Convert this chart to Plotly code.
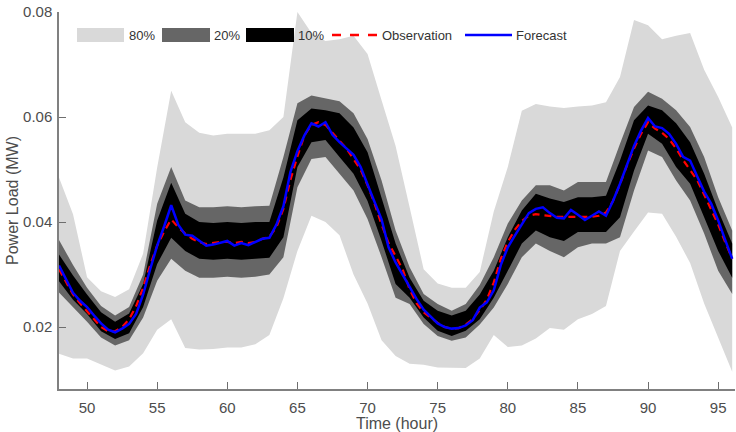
import plotly.graph_objects as go

# ---------------- data ----------------
hours = [48, 49, 50, 51, 52, 53, 54, 55, 56, 57, 58, 59, 60, 61, 62, 63, 64, 65, 66, 67,
         68, 69, 70, 71, 72, 73, 74, 75, 76, 77, 78, 79, 80, 81, 82, 83, 84, 85, 86, 87,
         88, 89, 90, 91, 92, 93, 94, 95, 96]

hi80 = [0.0485, 0.0415, 0.0295, 0.0268, 0.0257, 0.0272, 0.0340, 0.0504, 0.0650, 0.0590,
        0.0570, 0.0565, 0.0568, 0.0568, 0.0568, 0.0575, 0.0600, 0.0800, 0.0760, 0.0745,
        0.0748, 0.0755, 0.0720, 0.0632, 0.0545, 0.0428, 0.0310, 0.0283, 0.0275, 0.0275,
        0.0305, 0.0420, 0.0505, 0.0612, 0.0625, 0.0620, 0.0617, 0.0620, 0.0622, 0.0628,
        0.0676, 0.0785, 0.0775, 0.0748, 0.0755, 0.0760, 0.0690, 0.0638, 0.0580]
lo80 = [0.0149, 0.0140, 0.0140, 0.0128, 0.0117, 0.0125, 0.0150, 0.0195, 0.0215, 0.0160,
        0.0157, 0.0158, 0.0161, 0.0161, 0.0167, 0.0185, 0.0255, 0.0345, 0.0412, 0.0400,
        0.0375, 0.0300, 0.0245, 0.0175, 0.0145, 0.0130, 0.0128, 0.0123, 0.0122, 0.0122,
        0.0140, 0.0185, 0.0162, 0.0165, 0.0178, 0.0198, 0.0195, 0.0215, 0.0225, 0.0240,
        0.0345, 0.0382, 0.0418, 0.0416, 0.0372, 0.0322, 0.0245, 0.0180, 0.0115]
hi20 = [0.0366, 0.0318, 0.0275, 0.0240, 0.0222, 0.0238, 0.0300, 0.0435, 0.0505, 0.0441,
        0.0428, 0.0428, 0.0430, 0.0428, 0.0430, 0.0431, 0.0524, 0.0626, 0.0641, 0.0635,
        0.0630, 0.0607, 0.0558, 0.0479, 0.0384, 0.0314, 0.0263, 0.0244, 0.0231, 0.0244,
        0.0280, 0.0333, 0.0397, 0.0441, 0.0470, 0.0470, 0.0460, 0.0476, 0.0476, 0.0476,
        0.0549, 0.0619, 0.0648, 0.0635, 0.0613, 0.0581, 0.0524, 0.0447, 0.0384]
lo20 = [0.0266, 0.0237, 0.0210, 0.0180, 0.0165, 0.0175, 0.0218, 0.0288, 0.0330, 0.0307,
        0.0294, 0.0294, 0.0296, 0.0294, 0.0296, 0.0300, 0.0333, 0.0466, 0.0520, 0.0524,
        0.0492, 0.0460, 0.0406, 0.0333, 0.0256, 0.0244, 0.0206, 0.0183, 0.0174, 0.0180,
        0.0205, 0.0237, 0.0282, 0.0333, 0.0359, 0.0345, 0.0333, 0.0352, 0.0359, 0.0359,
        0.0371, 0.0460, 0.0536, 0.0524, 0.0479, 0.0441, 0.0378, 0.0307, 0.0263]
hi10 = [0.0338, 0.0298, 0.0262, 0.0228, 0.0210, 0.0226, 0.0282, 0.0403, 0.0475, 0.0416,
        0.0400, 0.0398, 0.0400, 0.0398, 0.0400, 0.0400, 0.0485, 0.0594, 0.0616, 0.0613,
        0.0607, 0.0580, 0.0533, 0.0447, 0.0359, 0.0294, 0.0250, 0.0231, 0.0222, 0.0231,
        0.0262, 0.0307, 0.0371, 0.0422, 0.0454, 0.0445, 0.0438, 0.0447, 0.0447, 0.0450,
        0.0517, 0.0594, 0.0622, 0.0613, 0.0588, 0.0552, 0.0492, 0.0422, 0.0359]
lo10 = [0.0287, 0.0252, 0.0225, 0.0192, 0.0177, 0.0188, 0.0238, 0.0320, 0.0370, 0.0345,
        0.0330, 0.0328, 0.0330, 0.0328, 0.0330, 0.0332, 0.0371, 0.0505, 0.0552, 0.0556,
        0.0524, 0.0492, 0.0440, 0.0364, 0.0282, 0.0256, 0.0218, 0.0193, 0.0183, 0.0193,
        0.0215, 0.0256, 0.0307, 0.0359, 0.0384, 0.0371, 0.0364, 0.0381, 0.0381, 0.0381,
        0.0409, 0.0498, 0.0568, 0.0549, 0.0505, 0.0473, 0.0409, 0.0345, 0.0294]

half_hours = [48.0, 48.5, 49.0, 49.5, 50.0, 50.5, 51.0, 51.5, 52.0, 52.5, 53.0, 53.5,
              54.0, 54.5, 55.0, 55.5, 56.0, 56.5, 57.0, 57.5, 58.0, 58.5, 59.0, 59.5,
              60.0, 60.5, 61.0, 61.5, 62.0, 62.5, 63.0, 63.5, 64.0, 64.5, 65.0, 65.5,
              66.0, 66.5, 67.0, 67.5, 68.0, 68.5, 69.0, 69.5, 70.0, 70.5, 71.0, 71.5,
              72.0, 72.5, 73.0, 73.5, 74.0, 74.5, 75.0, 75.5, 76.0, 76.5, 77.0, 77.5,
              78.0, 78.5, 79.0, 79.5, 80.0, 80.5, 81.0, 81.5, 82.0, 82.5, 83.0, 83.5,
              84.0, 84.5, 85.0, 85.5, 86.0, 86.5, 87.0, 87.5, 88.0, 88.5, 89.0, 89.5,
              90.0, 90.5, 91.0, 91.5, 92.0, 92.5, 93.0, 93.5, 94.0, 94.5, 95.0, 95.5,
              96.0]

forecast = [0.0317, 0.0290, 0.0265, 0.0250, 0.0238, 0.0222, 0.0207, 0.0195, 0.0190, 0.0197,
            0.0206, 0.0225, 0.0262, 0.0310, 0.0355, 0.0392, 0.0432, 0.0395, 0.0376, 0.0374,
            0.0365, 0.0355, 0.0357, 0.0360, 0.0364, 0.0355, 0.0360, 0.0356, 0.0362, 0.0368,
            0.0370, 0.0395, 0.0430, 0.0495, 0.0535, 0.0565, 0.0588, 0.0582, 0.0590, 0.0566,
            0.0552, 0.0540, 0.0528, 0.0505, 0.0470, 0.0438, 0.0405, 0.0352, 0.0323, 0.0300,
            0.0275, 0.0253, 0.0233, 0.0220, 0.0207, 0.0200, 0.0197, 0.0198, 0.0203, 0.0213,
            0.0237, 0.0247, 0.0270, 0.0318, 0.0352, 0.0374, 0.0395, 0.0417, 0.0425, 0.0428,
            0.0417, 0.0408, 0.0407, 0.0423, 0.0414, 0.0404, 0.0412, 0.0420, 0.0412, 0.0440,
            0.0473, 0.0510, 0.0545, 0.0574, 0.0598, 0.0582, 0.0579, 0.0568, 0.0549, 0.0524,
            0.0517, 0.0487, 0.0458, 0.0435, 0.0403, 0.0366, 0.0330]

observation = [0.0310, 0.0285, 0.0262, 0.0245, 0.0230, 0.0215, 0.0200, 0.0192, 0.0192, 0.0200,
               0.0215, 0.0240, 0.0275, 0.0318, 0.0355, 0.0382, 0.0405, 0.0390, 0.0378, 0.0368,
               0.0362, 0.0358, 0.0360, 0.0362, 0.0362, 0.0360, 0.0362, 0.0360, 0.0362, 0.0368,
               0.0372, 0.0390, 0.0425, 0.0480, 0.0525, 0.0565, 0.0585, 0.0590, 0.0585, 0.0570,
               0.0555, 0.0540, 0.0520, 0.0500, 0.0470, 0.0435, 0.0395, 0.0360, 0.0335, 0.0310,
               0.0272, 0.0245, 0.0228, 0.0218, 0.0208, 0.0200, 0.0197, 0.0198, 0.0205, 0.0215,
               0.0232, 0.0252, 0.0285, 0.0330, 0.0362, 0.0385, 0.0402, 0.0412, 0.0415, 0.0413,
               0.0411, 0.0410, 0.0410, 0.0410, 0.0410, 0.0410, 0.0410, 0.0412, 0.0418, 0.0440,
               0.0472, 0.0508, 0.0540, 0.0568, 0.0590, 0.0578, 0.0570, 0.0558, 0.0540, 0.0518,
               0.0500, 0.0480, 0.0452, 0.0425, 0.0395, 0.0362, 0.0330]

y_ticks = [0.02, 0.04, 0.06, 0.08]
x_ticks = [50, 55, 60, 65, 70, 75, 80, 85, 90, 95]

legend_labels = ["80%", "20%", "10%", "Observation", "Forecast"]

# ---------------- figure ----------------
FONT = "Liberation Sans, Arial, Helvetica, sans-serif"
C80, C20, C10 = "#d9d9d9", "#666666", "#000000"
TXT = "#4d4d4d"

fig = go.Figure()


def band(lower, upper, color, name):
    fig.add_trace(go.Scatter(
        x=hours + hours[::-1], y=upper + lower[::-1],
        fill="toself", fillcolor=color, line=dict(width=0, color=color),
        mode="lines", name=name, hoverinfo="skip", showlegend=False))


band(lo80, hi80, C80, legend_labels[0])
band(lo20, hi20, C20, legend_labels[1])
band(lo10, hi10, C10, legend_labels[2])

fig.add_trace(go.Scatter(x=half_hours, y=observation, mode="lines", name=legend_labels[3],
                         line=dict(color="#ff0000", width=2.2, dash="7px,5px"), showlegend=False))
fig.add_trace(go.Scatter(x=half_hours, y=forecast, mode="lines", name=legend_labels[4],
                         line=dict(color="#0000ff", width=2.5), showlegend=False))

# ---- custom legend (matches the reference's large swatches) ----
L, T, W, H = 59, 12, 676, 377


def px(xp):
    return (xp - L) / W


def py(yp):
    return (T + H - yp) / H


sw_y0, sw_y1 = py(42), py(28)
shapes = []
for (x0, x1, col) in [(77, 124, C80), (162, 210, C20), (246, 294, C10)]:
    shapes.append(dict(type="rect", xref="paper", yref="paper", x0=px(x0), x1=px(x1),
                       y0=sw_y0, y1=sw_y1, fillcolor=col, line=dict(width=0), layer="above"))
shapes.append(dict(type="line", xref="paper", yref="paper", x0=px(332), x1=px(379),
                   y0=py(35), y1=py(35), line=dict(color="#ff0000", width=2.5, dash="9px,9px"),
                   layer="above"))
shapes.append(dict(type="line", xref="paper", yref="paper", x0=px(465), x1=px(512),
                   y0=py(35), y1=py(35), line=dict(color="#0000ff", width=2.5), layer="above"))

annotations = []
for xp, txt in zip([127, 212, 296, 380, 514], legend_labels):
    annotations.append(dict(xref="paper", yref="paper", x=px(xp), y=py(35), text=txt,
                            showarrow=False, xanchor="left", yanchor="middle",
                            font=dict(family=FONT, size=13, color="#333333")))

axis_common = dict(showgrid=False, zeroline=False, showline=True, linecolor="#808080",
                   linewidth=1.5, ticks="inside", ticklen=7, tickwidth=1.3, tickcolor="#6e6e6e",
                   tickfont=dict(family=FONT, size=15, color=TXT), mirror=False)

fig.update_layout(
    width=736, height=432,
    margin=dict(l=L, r=736 - L - W, t=T, b=432 - T - H, autoexpand=False),
    plot_bgcolor="white", paper_bgcolor="white",
    showlegend=False,
    xaxis=dict(range=[48, 96.2], tickvals=x_ticks, ticklabelstandoff=4,
               title=dict(text="Time (hour)", standoff=4,
                          font=dict(family=FONT, size=16, color=TXT)), **axis_common),
    yaxis=dict(range=[0.0082, 0.08], tickvals=y_ticks, tickformat=".2f", ticklabelstandoff=2,
               title=dict(text="Power Load (MW)", standoff=0,
                          font=dict(family=FONT, size=16, color=TXT)), **axis_common),
    shapes=shapes, annotations=annotations,
)

fig.write_html("out.html")
